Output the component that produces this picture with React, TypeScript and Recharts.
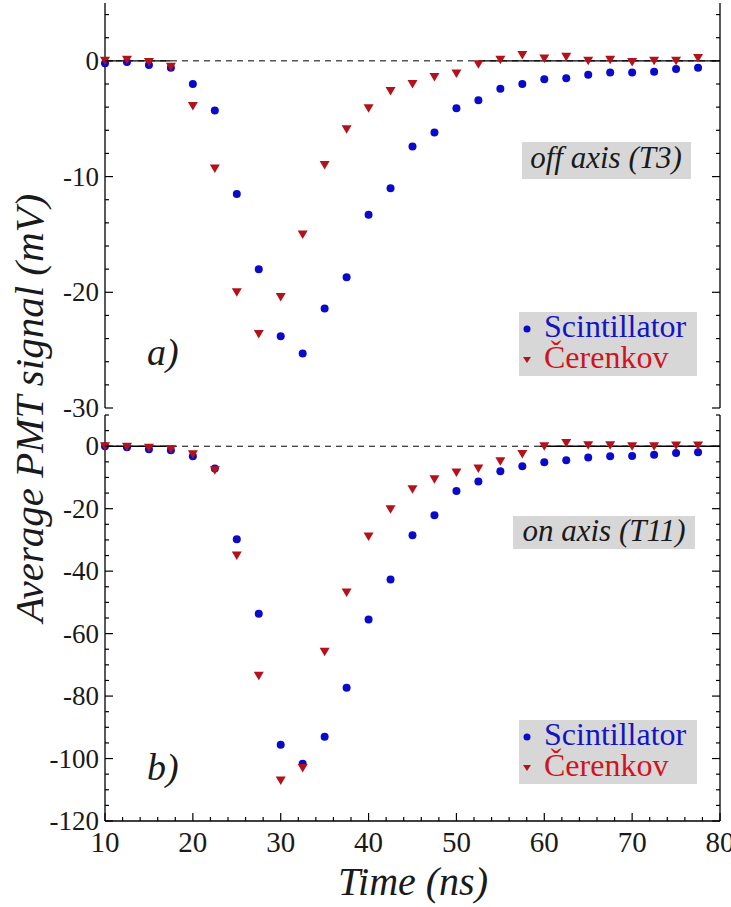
import React from 'react';
import { ScatterChart, Scatter, XAxis, YAxis, ReferenceLine, Legend } from 'recharts';

const SERIF = 'Liberation Serif';
const BLUE = '#0a0acb';
const RED = '#b3121a';
const BLUE_TXT = '#1414c4';
const RED_TXT = '#d0141c';
const BOX = '#d7d7d7';

// time of each sample (ns)
const TIME = [10, 12.5, 15, 17.5, 20, 22.5, 25, 27.5, 30, 32.5, 35, 37.5, 40, 42.5, 45, 47.5, 50, 52.5, 55, 57.5, 60, 62.5, 65, 67.5, 70, 72.5, 75, 77.5];

// a) off axis (T3), mV
const SCINT_T3 = [-0.2, -0.1, -0.35, -0.6, -2.0, -4.3, -11.5, -18.0, -23.8, -25.3, -21.4, -18.7, -13.3, -11.0, -7.4, -6.2, -4.1, -3.4, -2.4, -2.0, -1.6, -1.5, -1.2, -1.0, -1.0, -0.95, -0.7, -0.6];
const CEREN_T3 = [0, 0.1, -0.1, -0.5, -3.9, -9.3, -20.0, -23.6, -20.4, -15.0, -9.0, -5.9, -4.1, -2.6, -2.0, -1.4, -1.1, -0.3, 0.1, 0.5, 0.2, 0.35, 0, 0.1, -0.1, 0, 0, 0.25];

// b) on axis (T11), mV
const SCINT_T11 = [0, -0.3, -1.0, -1.3, -3.2, -7.1, -29.8, -53.6, -95.6, -101.7, -93, -77.3, -55.5, -42.7, -28.5, -22.1, -14.3, -11.3, -8.0, -6.4, -5.1, -4.5, -3.6, -3.2, -3.1, -2.7, -2.2, -1.9];
const CEREN_T11 = [0, -0.2, -0.5, -1.0, -2.6, -7.7, -35, -73.5, -107, -103, -65.8, -46.8, -28.9, -20.2, -13.8, -10.6, -8.4, -7.1, -4.8, -2.5, 0, 1.0, 0.3, 0.3, 0, 0, 0.2, 0.2];

const X_TICKS = [10, 12, 14, 16, 18, 20, 22, 24, 26, 28, 30, 32, 34, 36, 38, 40, 42, 44, 46, 48, 50, 52, 54, 56, 58, 60, 62, 64, 66, 68, 70, 72, 74, 76, 78, 80];
const Y_TICKS_T3 = [-30, -28, -26, -24, -22, -20, -18, -16, -14, -12, -10, -8, -6, -4, -2, 0, 2, 4];
const Y_TICKS_T11 = [-120, -115, -110, -105, -100, -95, -90, -85, -80, -75, -70, -65, -60, -55, -50, -45, -40, -35, -30, -25, -20, -15, -10, -5, 0, 5, 10];

const toPoints = (ys: number[]) => TIME.map((t, i) => ({ t, v: ys[i] }));

const Dot = (p: any) => <circle cx={p.cx} cy={p.cy} r={4} fill={BLUE} />;
const Tri = (p: any) => (
  <path d={`M${p.cx - 5},${p.cy - 4} L${p.cx + 5},${p.cy - 4} L${p.cx},${p.cy + 4.5} Z`} fill={RED} />
);

const xTick = (side: 'top' | 'bottom', labels: boolean) => (p: any) => {
  const v = p.payload.value;
  const major = v % 10 === 0;
  const d = side === 'bottom' ? -1 : 1;
  return (
    <g>
      <line x1={p.x} x2={p.x} y1={p.y} y2={p.y + d * (major ? 8 : 4)} stroke="#000" strokeWidth={1.2} />
      {labels && major && (
        <text x={p.x} y={p.y + 31} textAnchor="middle" fontFamily={SERIF} fontSize={29} fill="#1a1a1a">{v}</text>
      )}
    </g>
  );
};

const yTick = (side: 'left' | 'right', step: number, labels: boolean) => (p: any) => {
  const v = p.payload.value;
  const major = v % step === 0;
  const d = side === 'left' ? 1 : -1;
  return (
    <g>
      <line x1={p.x} x2={p.x + d * (major ? 8 : 4)} y1={p.y} y2={p.y} stroke="#000" strokeWidth={1.2} />
      {labels && major && (
        <text x={p.x - 6} y={p.y + 9} textAnchor="end" fontFamily={SERIF} fontSize={27} fill="#1a1a1a">{v}</text>
      )}
    </g>
  );
};

const LegendBox = (props: any) => {
  const items = props.payload && props.payload.length ? props.payload : [{ value: 'Scintillator' }, { value: 'Čerenkov' }];
  return (
    <svg width={178} height={64} style={{ display: 'block', overflow: 'visible' }}>
      <rect x={0} y={0} width={178} height={64} fill={BOX} />
      {items.map((it: any, i: number) => {
        const scint = it.value === 'Scintillator';
        const cy = 17 + i * 31;
        return (
          <g key={it.value}>
            {scint ? <circle cx={8} cy={cy} r={3.5} fill={BLUE} /> : <path d={`M4,${cy - 3} L12,${cy - 3} L8,${cy + 3} Z`} fill={RED} />}
            <text x={25} y={25 + i * 31} fontFamily={SERIF} fontSize={32} fill={scint ? BLUE_TXT : RED_TXT}>{it.value}</text>
          </g>
        );
      })}
    </svg>
  );
};

type PanelProps = {
  top: number;
  height: number;
  bottom: number;
  bottomAxis: number;
  yDomain: [number, number];
  yTicks: number[];
  yStep: number;
  scint: number[];
  ceren: number[];
  solidLeft: [number, number];
  solidRight: [number, number];
  legendTop: number;
  labels: boolean;
};

const Panel = (p: PanelProps) => (
  <div style={{ position: 'absolute', left: 0, top: p.top }}>
    <ScatterChart width={731} height={p.height} margin={{ top: 3, right: 0, bottom: p.bottom, left: 0 }}>
      <XAxis
        dataKey="t" type="number" domain={[10, 80]} ticks={X_TICKS} interval={0}
        tickSize={0} tickMargin={0} tickLine={false} height={p.bottomAxis}
        axisLine={{ stroke: '#000', strokeWidth: 1.3 }} tick={xTick('bottom', p.labels)}
      />
      <XAxis
        xAxisId="top" orientation="top" type="number" domain={[10, 80]} ticks={X_TICKS} interval={0}
        allowDataOverflow tickSize={0} tickMargin={0} tickLine={false} height={0}
        axisLine={{ stroke: '#000', strokeWidth: 1.3 }} tick={xTick('top', false)}
      />
      <YAxis
        dataKey="v" type="number" domain={p.yDomain} ticks={p.yTicks} interval={0} allowDataOverflow
        width={105} tickSize={0} tickMargin={0} tickLine={false}
        axisLine={{ stroke: '#000', strokeWidth: 1.3 }} tick={yTick('left', p.yStep, true)}
      />
      <YAxis
        yAxisId="right" orientation="right" type="number" domain={p.yDomain} ticks={p.yTicks} interval={0}
        allowDataOverflow width={11} tickSize={0} tickMargin={0} tickLine={false}
        axisLine={{ stroke: '#000', strokeWidth: 1.3 }} tick={yTick('right', p.yStep, false)}
      />
      <ReferenceLine y={0} stroke="#000" strokeWidth={1} strokeDasharray="6 5" />
      <ReferenceLine segment={[{ x: p.solidLeft[0], y: 0 }, { x: p.solidLeft[1], y: 0 }]} stroke="#000" strokeWidth={1.3} />
      <ReferenceLine segment={[{ x: p.solidRight[0], y: 0 }, { x: p.solidRight[1], y: 0 }]} stroke="#000" strokeWidth={1.3} />
      <Scatter name="Scintillator" data={toPoints(p.scint)} fill={BLUE} shape={Dot} isAnimationActive={false} />
      <Scatter name="Čerenkov" data={toPoints(p.ceren)} fill={RED} shape={Tri} isAnimationActive={false} />
      <Legend
        layout="horizontal" verticalAlign="middle" align="center" content={<LegendBox />}
        wrapperStyle={{ left: 519, top: p.legendTop, width: 178, height: 64 }}
      />
    </ScatterChart>
  </div>
);

export default function App() {
  return (
    <div style={{ position: 'absolute', left: 0, top: 0, width: 731, height: 907, background: '#fff', fontFamily: SERIF }}>
      <Panel
        top={0} height={425} bottom={17} bottomAxis={0} yDomain={[-30, 5]} yTicks={Y_TICKS_T3} yStep={10}
        scint={SCINT_T3} ceren={CEREN_T3} solidLeft={[10, 17.5]} solidRight={[52.5, 80]} legendTop={312} labels={false}
      />
      <Panel
        top={412} height={495} bottom={2} bottomAxis={84} yDomain={[-120, 10]} yTicks={Y_TICKS_T11} yStep={20}
        scint={SCINT_T11} ceren={CEREN_T11} solidLeft={[10, 18]} solidRight={[59.5, 80]} legendTop={308} labels={true}
      />
      <svg width={731} height={907} style={{ position: 'absolute', left: 0, top: 0, pointerEvents: 'none' }}>
        <rect x={522} y={142} width={169} height={37} fill={BOX} />
        <text x={606} y={168} textAnchor="middle" fontFamily={SERIF} fontStyle="italic" fontSize={31} fill="#1a1a1a">off axis (T3)</text>
        <rect x={513} y={516} width={182} height={33} fill={BOX} />
        <text x={604} y={541} textAnchor="middle" fontFamily={SERIF} fontStyle="italic" fontSize={31} fill="#1a1a1a">on axis (T11)</text>
        <text x={147} y={365} fontFamily={SERIF} fontStyle="italic" fontSize={38} fill="#1a1a1a">a)</text>
        <text x={147} y={780} fontFamily={SERIF} fontStyle="italic" fontSize={38} fill="#1a1a1a">b)</text>
        <text x={413} y={895} textAnchor="middle" fontFamily={SERIF} fontStyle="italic" fontSize={40} fill="#1a1a1a">Time (ns)</text>
        <text x={43} y={408} transform="rotate(-90, 43, 408)" textAnchor="middle" fontFamily={SERIF} fontStyle="italic" fontSize={41} fill="#1a1a1a">Average PMT signal (mV)</text>
      </svg>
    </div>
  );
}
